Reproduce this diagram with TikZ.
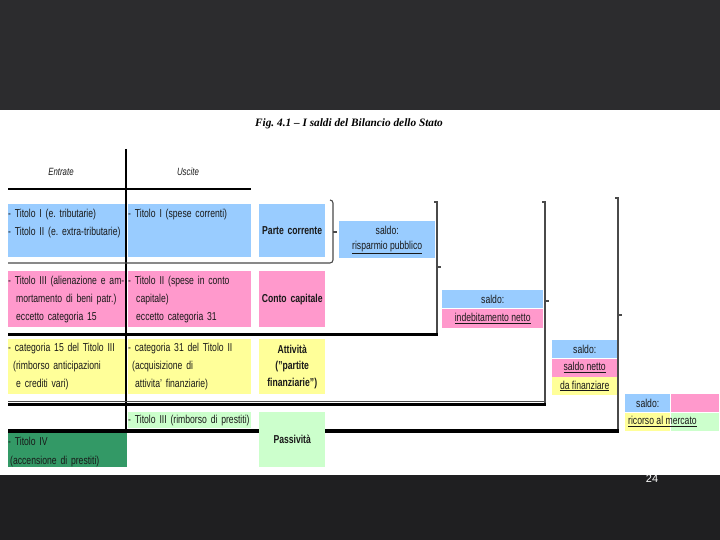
\documentclass[tikz,border=0pt]{standalone}
\usepackage{fontspec}
\setmainfont{Liberation Serif}
\setsansfont[FakeStretch=0.75]{Liberation Sans}
\newfontfamily\slidefont{Liberation Sans}
\usetikzlibrary{positioning}
\frenchspacing

\definecolor{SlideDark}{HTML}{2C2C2E}
\definecolor{SlideDarker}{HTML}{1F1F21}
\definecolor{SkyBlue}{HTML}{99CCFF}
\definecolor{RosePink}{HTML}{FF99CC}
\definecolor{PaleYellow}{HTML}{FFFF99}
\definecolor{PaleGreen}{HTML}{CCFFCC}
\definecolor{SeaGreen}{HTML}{339966}
\definecolor{BracketGray}{HTML}{4A4A4A}

\begin{document}
\begin{tikzpicture}[x=1pt,y=-1pt,
    txt/.style={font=\sffamily\fontsize{11.5}{18}\selectfont,text=black!90},
    cell/.style={txt,anchor=north west,inner xsep=0pt,inner ysep=0pt,align=left},
    colL/.style={cell,text width=117pt},
    colM/.style={cell,text width=123pt},
    colR/.style={cell,text width=66pt,align=center,font=\sffamily\bfseries\fontsize{11.5}{18}\selectfont},
    saldo/.style={txt,anchor=north west,inner sep=0pt,align=center,minimum height=18pt},
    hrule/.style={draw=black,line width=#1},
    brk/.style={draw=BracketGray,line width=1.1pt}]

  % sfondo della slide
  \fill[SlideDark] (0,0) rectangle (720,110);
  \fill[white] (0,110) rectangle (720,475);
  \fill[SlideDarker] (0,475) rectangle (720,540);

  \node[font=\rmfamily\bfseries\itshape\fontsize{11.3}{13}\selectfont] (titolo) at (349,124)
     {Fig. 4.1 – I saldi del Bilancio dello Stato};
  \node[txt,font=\sffamily\itshape\fontsize{10.5}{12}\selectfont] (entrate) at (61,172) {Entrate};
  \node[txt,font=\sffamily\itshape\fontsize{10.5}{12}\selectfont] (uscite) at (188,172) {Uscite};

  % righe della tabella e parentesi
  \draw[hrule=2.5pt] (8,189) -- (251,189);
  \draw[hrule=2pt] (126,149) -- (126,430);
  \draw[brk,rounded corners=3pt] (330,200) -- (333,200) -- (333,263) -- (8,263);
  \draw[brk] (333,232) -- (337,232);
  \foreach \bx/\btop/\bbot/\btick in {437/202/334/267, 545/202/404/301, 618/198/431/315}{
    \draw[brk] (\bx-3,\btop) -- (\bx,\btop) -- (\bx,\bbot);
    \draw[brk] (\bx,\btick) -- (\bx+4,\btick);
  }
  \draw[hrule=3pt] (8,334) -- (438,334);
  \draw[hrule=1pt,draw=black!70] (8,401) -- (545,401);
  \draw[hrule=2.5pt] (8,404.5) -- (546,404.5);
  \draw[hrule=4pt] (8,431) -- (619,431);

  % parte corrente
  \node[colL,fill=SkyBlue,minimum height=53pt,text depth=34.5pt] (ent1) at (8,204)
     {- Titolo I (e. tributarie)\\- Titolo II (e. extra-tributarie)};
  \node[colM,fill=SkyBlue,minimum height=53pt,text depth=34.5pt] (usc1) at (128,204)
     {- Titolo I (spese correnti)};
  \node[colR,fill=SkyBlue,minimum height=53pt] (parte1) at (259,204) {Parte corrente};

  % conto capitale
  \node[colL,fill=RosePink,minimum height=56pt] (ent2) at (8,271)
     {- Titolo III (alienazione e am-\\\hspace*{8pt}mortamento di beni patr.)\\\hspace*{8pt}eccetto categoria 15};
  \node[colM,fill=RosePink,minimum height=56pt] (usc2) at (128,271)
     {- Titolo II (spese in conto\\\hspace*{8pt}capitale)\\\hspace*{8pt}eccetto categoria 31};
  \node[colR,fill=RosePink,minimum height=56pt] (parte2) at (259,271) {Conto capitale};

  % partite finanziarie
  \node[colL,fill=PaleYellow,minimum height=55pt] (ent3) at (8,339)
     {- categoria 15 del Titolo III\\\hspace*{5pt}(rimborso anticipazioni\\\hspace*{8pt}e crediti vari)};
  \node[colM,fill=PaleYellow,minimum height=55pt] (usc3) at (128,339)
     {- categoria 31 del Titolo II\\\hspace*{4pt}(acquisizione di\\\hspace*{7pt}attivita' finanziarie)};
  \node[colR,fill=PaleYellow,minimum height=55pt,font=\sffamily\bfseries\fontsize{11.5}{16.5}\selectfont] (parte3) at (259,339)
     {Attività\\("partite\\finanziarie")};

  % prestiti
  \node[colM,fill=PaleGreen,minimum height=16pt] (usc4) at (128,412)
     {\mbox{- Titolo III (rimborso di prestiti)}};
  \node[colR,fill=PaleGreen,minimum height=55pt] (parte4) at (259,412) {Passività};
  \node[cell,text width=119pt,fill=SeaGreen,minimum height=34pt,text depth=17.5pt,font=\sffamily\fontsize{11.5}{19}\selectfont] (ent4) at (8,433)
     {- Titolo IV\\\hspace*{2pt}(accensione di prestiti)};

  % saldi
  \node[saldo,fill=SkyBlue,minimum width=96pt,minimum height=37pt,font=\sffamily\fontsize{11.5}{15}\selectfont] (sal1) at (339,221)
     {saldo:\\\underline{risparmio pubblico}};

  \node[saldo,fill=SkyBlue,minimum width=101pt] (sal2a) at (442,290) {saldo:};
  \node[saldo,below=0pt of sal2a,fill=RosePink,minimum width=101pt,minimum height=19pt] (sal2b) {\underline{indebitamento netto}};

  \node[saldo,fill=SkyBlue,minimum width=65pt] (sal3a) at (552,340) {saldo:};
  \node[saldo,below=0pt of sal3a,fill=RosePink,minimum width=65pt] (sal3b) {\underline{saldo netto}};
  \node[saldo,below=0pt of sal3b,fill=PaleYellow,minimum width=65pt] (sal3c) {\underline{da finanziare}};

  \node[saldo,fill=SkyBlue,minimum width=45pt] (sal4a) at (625,394) {saldo:};
  \node[saldo,right=0pt of sal4a,fill=RosePink,minimum width=48pt] (sal4b) {};
  \node[saldo,below=0pt of sal4a,fill=PaleYellow,minimum width=45pt] (sal4c) {};
  \node[saldo,right=0pt of sal4c,fill=PaleGreen,minimum width=48pt] (sal4d) {};
  \node[txt,anchor=west,inner sep=0pt] (sal4t) at ([xshift=3pt]sal4c.west) {\underline{ricorso al mercato}};

  \node[font=\slidefont\fontsize{11}{12}\selectfont,text=white] (pagina) at (652,479) {24};
\end{tikzpicture}
\end{document}
